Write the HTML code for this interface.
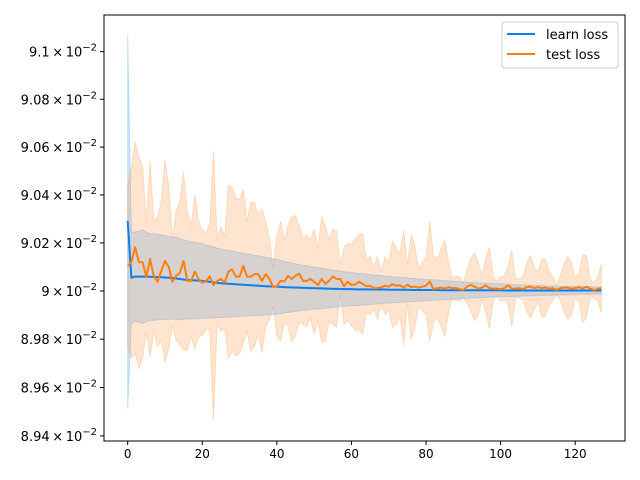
<!DOCTYPE html>
<html><head><meta charset="utf-8"><style>
body{margin:0;background:#fff;}
svg{display:block;font-family:"DejaVu Sans","Liberation Sans",sans-serif;}
</style></head><body>
<svg id="chart" width="640" height="480" viewBox="0 0 640 480" xmlns="http://www.w3.org/2000/svg">
<rect width="640" height="480" fill="#fff"/>
<g id="plot"></g>
<g id="axes"></g>
</svg>
<script>
const xTicks=[0,20,40,60,80,100,120];
const yTicks=[8.94,8.96,8.98,9.00,9.02,9.04,9.06,9.08,9.10];
const yTickLabels=["8.94","8.96","8.98","9","9.02","9.04","9.06","9.08","9.1"];
const learnMean=[9.0292,9.0055,9.0060,9.0060,9.0060,9.0060,9.0059,9.0058,9.0058,9.0057,9.0056,9.0055,9.0054,9.0052,9.0050,9.0048,9.0046,9.0045,9.0044,9.0043,9.0042,9.0040,9.0038,9.0036,9.0034,9.0032,9.0031,9.0030,9.0029,9.0028,9.0027,9.0026,9.0025,9.0024,9.0023,9.0022,9.0021,9.0020,9.0019,9.0018,9.0018,9.0017,9.0016,9.0015,9.0015,9.0014,9.0014,9.0013,9.0013,9.0012,9.0012,9.0011,9.0011,9.0010,9.0010,9.0009,9.0009,9.0009,9.0008,9.0008,9.0008,9.0007,9.0007,9.0007,9.0007,9.0006,9.0006,9.0006,9.0006,9.0006,9.0005,9.0005,9.0005,9.0005,9.0005,9.0005,9.0004,9.0004,9.0004,9.0004,9.0004,9.0004,9.0004,9.0004,9.0003,9.0003,9.0003,9.0003,9.0003,9.0003,9.0003,9.0003,9.0003,9.0003,9.0003,9.0003,9.0003,9.0003,9.0003,9.0003,9.0003,9.0002,9.0002,9.0002,9.0002,9.0002,9.0002,9.0002,9.0002,9.0002,9.0002,9.0002,9.0002,9.0002,9.0002,9.0002,9.0002,9.0002,9.0002,9.0002,9.0002,9.0002,9.0002,9.0002,9.0002,9.0002,9.0002,9.0002];
const learnStd=[0.078,0.019,0.0185,0.019,0.0195,0.0185,0.018,0.018,0.0178,0.0176,0.0175,0.0172,0.017,0.0172,0.0168,0.0165,0.0163,0.016,0.016,0.0158,0.0155,0.0152,0.015,0.0148,0.0145,0.0143,0.014,0.014,0.0137,0.0135,0.0133,0.013,0.013,0.0128,0.0125,0.0125,0.0122,0.012,0.0118,0.0116,0.0114,0.0111,0.0108,0.0105,0.0102,0.0099,0.0096,0.0094,0.0092,0.009,0.0088,0.0086,0.0084,0.0082,0.008,0.0078,0.0076,0.0074,0.0072,0.0071,0.007,0.0068,0.0067,0.0065,0.0064,0.0062,0.0061,0.006,0.0058,0.0057,0.0056,0.0054,0.0053,0.0052,0.0051,0.005,0.0049,0.0048,0.0047,0.0046,0.0045,0.0044,0.0043,0.0042,0.0041,0.004,0.0039,0.0038,0.0037,0.0036,0.0035,0.0034,0.0033,0.0032,0.0031,0.003,0.003,0.0029,0.0028,0.0028,0.0027,0.0026,0.0026,0.0025,0.0024,0.0024,0.0023,0.0023,0.0022,0.0022,0.0021,0.0021,0.002,0.002,0.0019,0.0019,0.0018,0.0018,0.0018,0.0017,0.0017,0.0017,0.0016,0.0016,0.0016,0.0015,0.0015,0.0015];
const testMean=[9.0104,9.012,9.0183,9.012,9.012,9.0058,9.0133,9.0063,9.0038,9.0083,9.0125,9.01,9.0038,9.0063,9.0075,9.0125,9.0042,9.0042,9.008,9.005,9.0035,9.004,9.006,9.0025,9.0042,9.005,9.0035,9.008,9.009,9.006,9.006,9.0104,9.006,9.006,9.007,9.007,9.0042,9.007,9.005,9.0017,9.002,9.0042,9.004,9.0063,9.005,9.0063,9.0072,9.0042,9.0042,9.005,9.0038,9.0025,9.005,9.003,9.0042,9.006,9.005,9.005,9.002,9.0038,9.0025,9.0027,9.0038,9.003,9.002,9.0022,9.0012,9.0012,9.0015,9.0022,9.0018,9.0028,9.0022,9.0024,9.0014,9.0026,9.0016,9.0018,9.0014,9.0018,9.0022,9.004,9.0008,9.0012,9.0014,9.0010,9.0016,9.0012,9.0012,9.0008,9.0004,9.0018,9.0026,9.0018,9.0010,9.0014,9.0024,9.0012,9.0010,9.0010,9.0008,9.0012,9.0024,9.0010,9.0010,9.0012,9.0008,9.0016,9.0018,9.0012,9.0016,9.0012,9.0014,9.0010,9.0012,9.0004,9.0012,9.0014,9.0014,9.0010,9.0012,9.0016,9.0010,9.0018,9.0010,9.0004,9.0008,9.0012];
const testStd=[0.033,0.040,0.044,0.044,0.040,0.023,0.041,0.023,0.027,0.029,0.042,0.034,0.018,0.027,0.030,0.037,0.029,0.023,0.032,0.024,0.022,0.020,0.022,0.056,0.017,0.022,0.019,0.036,0.034,0.033,0.032,0.032,0.023,0.031,0.030,0.025,0.030,0.022,0.017,0.008,0.021,0.025,0.017,0.021,0.026,0.025,0.020,0.018,0.019,0.016,0.022,0.015,0.026,0.024,0.017,0.020,0.020,0.006,0.016,0.016,0.017,0.019,0.020,0.021,0.011,0.012,0.009,0.013,0.007,0.012,0.010,0.018,0.016,0.013,0.024,0.008,0.022,0.017,0.008,0.010,0.012,0.025,0.014,0.012,0.016,0.020,0.011,0.004,0.005,0.005,0.003,0.007,0.011,0.014,0.011,0.005,0.011,0.017,0.005,0.003,0.005,0.005,0.008,0.016,0.004,0.004,0.005,0.010,0.013,0.009,0.006,0.012,0.012,0.007,0.005,0.002,0.005,0.010,0.013,0.011,0.004,0.006,0.014,0.013,0.004,0.003,0.005,0.010];

const L=104,R=625,T=15,B=441;
const xMin=-6.35,xMax=133.35;
const yMin=8.9379,yMax=9.1154;
const NS="http://www.w3.org/2000/svg";
function xs(v){return L+(v-xMin)/(xMax-xMin)*(R-L);}
function ys(v){return B-(Math.log(v)-Math.log(yMin))/(Math.log(yMax)-Math.log(yMin))*(B-T);}
function mk(tag,attrs,parent){const e=document.createElementNS(NS,tag);for(const k in attrs)e.setAttribute(k,attrs[k]);parent.appendChild(e);return e;}
const plot=document.getElementById('plot'),axes=document.getElementById('axes');

function band(mean,sd,color,name){
  let up=[],dn=[];
  for(let i=0;i<mean.length;i++){up.push(xs(i).toFixed(2)+','+ys(mean[i]+sd[i]).toFixed(2));dn.unshift(xs(i).toFixed(2)+','+ys(mean[i]-sd[i]).toFixed(2));}
  const p=mk('polygon',{points:up.concat(dn).join(' '),fill:color,'fill-opacity':0.2,stroke:color,'stroke-opacity':0.2,'stroke-width':1},plot);
  
  
}
function line(mean,color,name){
  const pts=mean.map((v,i)=>xs(i).toFixed(2)+','+ys(v).toFixed(2)).join(' ');
  const p=mk('polyline',{points:pts,fill:'none',stroke:color,'stroke-width':2,'stroke-linejoin':'round'},plot);
  
  
}
band(learnMean,learnStd,'#0a80ff','learn-loss-band');
band(testMean,testStd,'#ff7f0e','test-loss-band');
line(learnMean,'#0a7ff0','learn-loss-line');
line(testMean,'#ff7f0e','test-loss-line');

const frame=mk('rect',{x:L,y:T,width:R-L,height:B-T,fill:'none',stroke:'#000','stroke-width':1},axes);


xTicks.forEach(t=>{
  const x=xs(t);
  mk('line',{x1:x,x2:x,y1:B,y2:B+4,stroke:'#000'},axes);
  const tx=mk('text',{x:x,y:B+17,'text-anchor':'middle','font-size':12},axes);
  tx.textContent=t;
  
  
});
yTicks.forEach((t,i)=>{
  const y=ys(t);
  mk('line',{x1:L-4,x2:L,y1:y,y2:y,stroke:'#000'},axes);
  const tx=mk('text',{x:L-7,y:y+5,'text-anchor':'end','font-size':13},axes);
  
  
  const a=document.createElementNS(NS,'tspan');a.textContent=yTickLabels[i]+'\u2009\u00d7\u200910';tx.appendChild(a);
  const b=document.createElementNS(NS,'tspan');b.setAttribute('dy','-6');b.setAttribute('font-size','10');b.textContent='\u22122';tx.appendChild(b);
});
// legend
const lg=mk('g',{},axes);


mk('rect',{x:502,y:22,width:116,height:46,rx:3,fill:'#fff','fill-opacity':0.8,stroke:'#ccc'},lg);
[['learn loss','#0a7ff0',34],['test loss','#ff7f0e',54]].forEach(e=>{
  const g=mk('g',{},lg);
  
  
  mk('line',{x1:507,x2:535,y1:e[2],y2:e[2],stroke:e[1],'stroke-width':2},g);
  const t=mk('text',{x:546,y:e[2]+5,'font-size':13},g);
  t.textContent=e[0];
});
</script>
</body></html>
